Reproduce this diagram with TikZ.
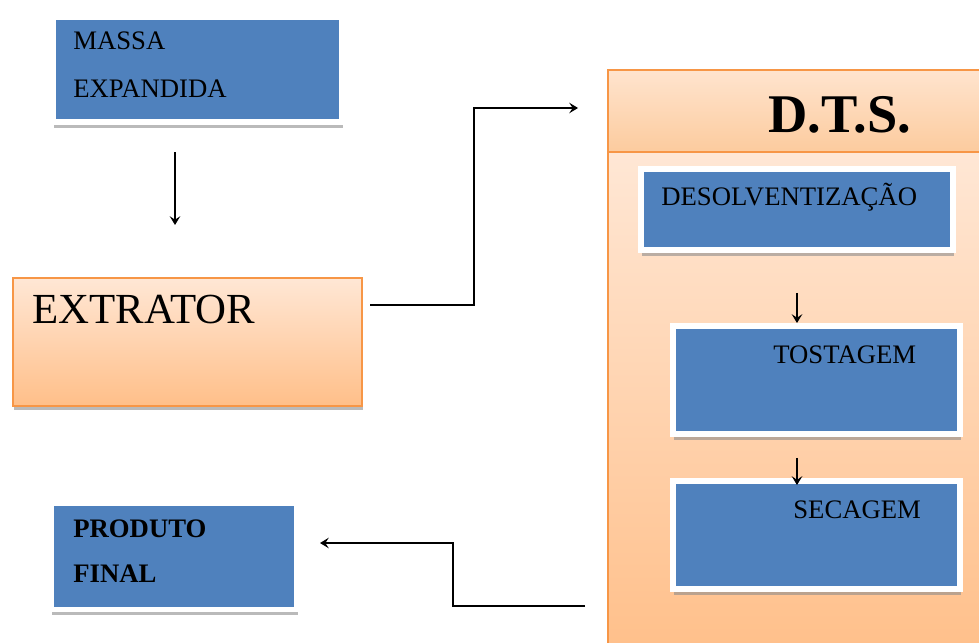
\documentclass[tikz,border=0pt]{standalone}
\usepackage{fontspec}
\setmainfont{Liberation Serif}
\usetikzlibrary{arrows.meta,shadows}

\definecolor{boxblue}{HTML}{4F81BD}
\definecolor{boxorange}{HTML}{F79646}
\definecolor{peachtop}{HTML}{FFE7D5}
\definecolor{peachbot}{HTML}{FFBF89}
\definecolor{headtop}{HTML}{FFE4CE}
\definecolor{headbot}{HTML}{FCCB9E}

\begin{document}
\begin{tikzpicture}[x=0.02cm,y=-0.02cm,
  bluebox/.style={draw=white,line width=3.4pt,fill=boxblue,inner sep=0pt,
    drop shadow={shadow xshift=0.6pt,shadow yshift=-3.4pt,fill=black!45,opacity=0.6}},
  peachbox/.style={draw=boxorange,line width=0.9pt,inner sep=0pt,
    top color=peachtop,bottom color=peachbot},
  flow/.style={draw=black,line width=1pt,-{Stealth[length=5pt,width=6pt,inset=2pt]}},
  lbl/.style={anchor=base west,inner sep=0pt,font=\fontsize{15.2}{18}\selectfont}]
  \useasboundingbox (0,0) rectangle (979,642);
  \clip (0,0) rectangle (979,642);

  % left column
  \node[bluebox,minimum width=5.78cm,minimum height=2.1cm] (massa) at (197.5,69.5) {};
  \node[peachbox,minimum width=6.98cm,minimum height=2.56cm,
    drop shadow={shadow xshift=0.6pt,shadow yshift=-2pt,fill=black!45,opacity=0.6}] (extrator) at (187.5,342) {};
  \node[bluebox,minimum width=4.92cm,minimum height=2.14cm] (produto) at (174,556) {};

  % D.T.S. block
  \node[peachbox,minimum width=7.84cm,minimum height=10.16cm] (dts) at (804,406) {};
  \node[peachbox,top color=headtop,bottom color=headbot,
    minimum width=7.84cm,minimum height=1.64cm] (dtshead) at (804,111) {};
  \node[bluebox,minimum width=6.24cm,minimum height=1.62cm] (desolv) at (797,209.5) {};
  \node[bluebox,minimum width=5.74cm,minimum height=2.16cm] (tostagem) at (816.5,380) {};
  \node[bluebox,minimum width=5.74cm,minimum height=2.16cm] (secagem) at (816.5,535) {};

  % texts
  \node[lbl] (tmassa) at (73,50) {MASSA};
  \node[lbl] (texpand) at (73,97) {EXPANDIDA};
  \node[lbl,font=\fontsize{24.4}{29}\selectfont] (textrator) at (32,323) {EXTRATOR};
  \node[lbl,font=\bfseries\fontsize{31}{36}\selectfont] (tdts) at (768,132) {D.T.S.};
  \node[lbl] (tdesolv) at (661,205) {DESOLVENTIZAÇÃO};
  \node[lbl] (ttostagem) at (773,363) {TOSTAGEM};
  \node[lbl] (tsecagem) at (793,518) {SECAGEM};
  \node[lbl,font=\bfseries\fontsize{15.2}{18}\selectfont] (tproduto) at (73,537) {PRODUTO};
  \node[lbl,font=\bfseries\fontsize{15.2}{18}\selectfont] (tfinal) at (73,582) {FINAL};

  % connectors
  \coordinate (massaout) at (175,152);
  \coordinate (extratorin) at (175,225);
  \coordinate (extratorout) at (370,305);
  \coordinate (dtsin) at (578,108);
  \coordinate (dtsout) at (585,606);
  \coordinate (produtoin) at (320,543);

  \draw[flow] (massaout) -- (extratorin);
  \draw[flow] (extratorout) -- ++(104,0) |- (dtsin);
  \draw[flow] (desolv.south) ++(0,40) -- (desolv.south |- tostagem.north);
  \draw[flow,shorten >=-0.14cm] (tostagem.south -| desolv.south) ++(0,21) -- (desolv.south |- secagem.north);
  \draw[flow] (dtsout) -- ++(-132,0) |- (produtoin);
\end{tikzpicture}
\end{document}
